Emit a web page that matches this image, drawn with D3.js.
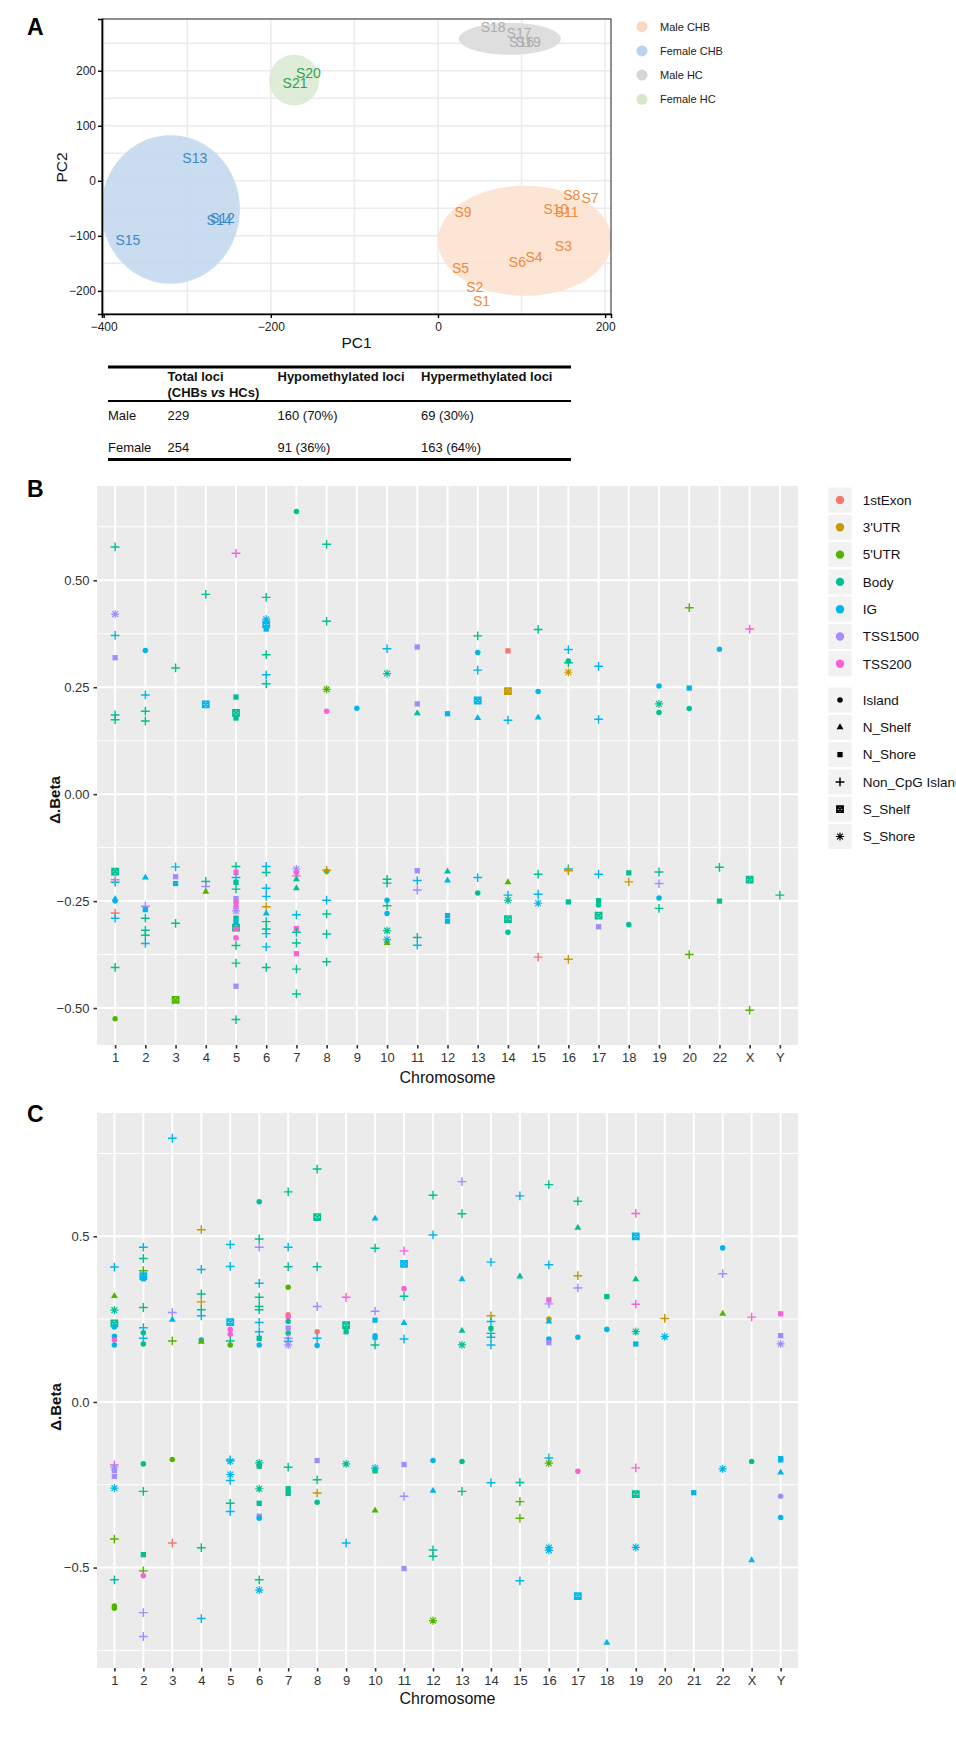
<!DOCTYPE html>
<html>
<head>
<meta charset="utf-8">
<script src="https://cdn.jsdelivr.net/npm/d3@7/dist/d3.min.js"></script>
<style>
html,body{margin:0;padding:0;background:#fff;}
svg{display:block;}
</style>
</head>
<body>
<svg id="fig" width="956" height="1751"></svg>
<script>
// ================= DATA =================
// ---- Panel A : PCA
const pcaGroups = ["Male CHB", "Female CHB", "Male HC", "Female HC"];
const pcaLabelColors = ["#EC8A3D", "#3F87C8", "#ADADAD", "#32A052"];
const pcaEllipseColors = ["#FCE1CE", "#C3D8EE", "#DADADA", "#DBEBD3"];
const pcaLegendColors = ["#F9D7C1", "#BBD3EC", "#D6D6D6", "#D5E8CC"];
const sampleNames = ["S1","S2","S3","S4","S5","S6","S7","S8","S9","S10","S11","S12","S13","S14","S15","S16","S17","S18","S19","S20","S21"];
const samplePC1 = [52, 44, 150, 115, 27, 95, 182, 160, 30, 141, 154, -258, -291, -262, -371, 100, 97, 66, 108, -155, -171];
const samplePC2 = [-218, -192, -119, -138, -158, -147, -31, -25, -56, -51, -57, -68, 42, -71, -108, 253, 269, 280, 253, 196, 178];
const sampleGroup = [0,0,0,0,0,0,0,0,0,0,0,1,1,1,1,2,2,2,2,3,3];
const ellipseCenterPC1 = [104, -320, 86, -172];
const ellipseCenterPC2 = [-109, -52, 258, 183];
const ellipseRadiusPC1 = [104, 83, 61, 30];
const ellipseRadiusPC2 = [100, 135, 29, 46];
const pcaXDomain = [-402, 207];
const pcaYDomain = [-242, 294];
const pcaXTicks = [-400, -200, 0, 200];
const pcaYTicks = [-200, -100, 0, 100, 200];

// ---- Table
const tableHeader = ["", "Total loci", "Hypomethylated loci", "Hypermethylated loci"];
const tableRows = [
  ["Male", "229", "160 (70%)", "69 (30%)"],
  ["Female", "254", "91 (36%)", "163 (64%)"]
];

// ---- Panels B & C
const regions = ["1stExon", "3'UTR", "5'UTR", "Body", "IG", "TSS1500", "TSS200"];
const regionColors = ["#F8766D", "#C49A00", "#53B400", "#00C094", "#00B6EB", "#A58AFF", "#FB61D7"];
const islands = ["Island", "N_Shelf", "N_Shore", "Non_CpG Island", "S_Shelf", "S_Shore"];
const E=0, U3=1, U5=2, BD=3, IG=4, T15=5, T2=6;
const ISL=0, NSF=1, NSR=2, NON=3, SSF=4, SSR=5;

const chromB = ["1","2","3","4","5","6","7","8","9","10","11","12","13","14","15","16","17","18","19","20","22","X","Y"];
const chromC = ["1","2","3","4","5","6","7","8","9","10","11","12","13","14","15","16","17","18","19","20","21","22","X","Y"];
const ticksB = [-0.5, -0.25, 0, 0.25, 0.5];
const minorB = [-0.625, -0.375, -0.125, 0.125, 0.375, 0.625];
const ticksC = [-0.5, 0, 0.5];
const minorC = [-0.75, -0.25, 0.25, 0.75];

// [chromosome, delta beta, region, island relation]
const pointsB = [
  ["1",0.578,BD,NON],["1",0.421,T15,SSR],["1",0.371,IG,NON],["1",0.319,T15,NSR],["1",0.185,BD,NON],["1",0.174,BD,NON],
  ["1",-0.181,BD,SSF],["1",-0.206,BD,NON],["1",-0.200,T15,NON],["1",-0.250,IG,ISL],["1",-0.245,IG,NSF],["1",-0.278,E,NON],["1",-0.290,IG,NON],["1",-0.405,BD,NON],["1",-0.525,U5,ISL],
  ["2",0.336,IG,ISL],["2",0.232,IG,NON],["2",0.194,BD,NON],["2",0.171,BD,NON],
  ["2",-0.195,IG,NSF],["2",-0.262,T15,NON],["2",-0.270,IG,NSR],["2",-0.290,BD,NON],["2",-0.318,BD,NON],["2",-0.330,BD,NON],["2",-0.349,IG,NON],
  ["3",0.295,BD,NON],["3",-0.170,IG,NON],["3",-0.193,T15,NSR],["3",-0.209,IG,NSR],["3",-0.302,BD,NON],["3",-0.481,U5,SSF],
  ["4",0.467,BD,NON],["4",0.210,IG,SSF],["4",-0.204,BD,NON],["4",-0.216,T15,NON],["4",-0.228,U5,NSF],
  ["5",0.563,T2,NON],["5",0.227,BD,NSR],["5",0.190,BD,SSF],["5",0.178,BD,NSR],
  ["5",-0.169,BD,NON],["5",-0.183,T2,NSR],["5",-0.195,IG,NON],["5",-0.206,BD,NSR],["5",-0.222,BD,NON],["5",-0.244,T15,NSR],["5",-0.253,T2,ISL],["5",-0.262,T2,ISL],["5",-0.273,T15,SSR],["5",-0.290,BD,NSR],["5",-0.300,IG,NSR],["5",-0.312,BD,SSF],["5",-0.315,T2,ISL],["5",-0.336,T2,ISL],["5",-0.354,BD,NON],["5",-0.395,BD,NON],["5",-0.449,T15,NSR],["5",-0.527,BD,NON],
  ["6",0.460,BD,NON],["6",0.409,IG,SSR],["6",0.397,IG,SSF],["6",0.386,IG,NSR],["6",0.326,BD,NON],["6",0.279,IG,NON],["6",0.258,BD,NON],
  ["6",-0.169,IG,NON],["6",-0.183,BD,NON],["6",-0.220,IG,NON],["6",-0.239,IG,NON],["6",-0.263,U3,NON],["6",-0.279,IG,NSF],["6",-0.298,BD,NON],["6",-0.315,BD,NON],["6",-0.326,IG,NON],["6",-0.357,IG,NON],["6",-0.405,BD,NON],
  ["7",0.661,BD,ISL],
  ["7",-0.175,T15,SSR],["7",-0.183,T2,ISL],["7",-0.191,T2,NON],["7",-0.199,BD,NSF],["7",-0.220,BD,NSF],["7",-0.282,IG,NON],["7",-0.314,T2,NSR],["7",-0.323,BD,NON],["7",-0.348,BD,NON],["7",-0.373,T2,NSR],["7",-0.409,BD,NON],["7",-0.467,BD,NON],
  ["8",0.584,BD,NON],["8",0.404,BD,NON],["8",0.245,U5,SSR],["8",0.194,T2,ISL],
  ["8",-0.180,BD,ISL],["8",-0.178,U3,NON],["8",-0.248,IG,NON],["8",-0.280,BD,NON],["8",-0.327,BD,NON],["8",-0.392,BD,NON],
  ["9",0.201,IG,ISL],
  ["10",0.340,IG,NON],["10",0.282,BD,SSR],
  ["10",-0.199,BD,NON],["10",-0.208,BD,NON],["10",-0.248,IG,ISL],["10",-0.261,BD,NON],["10",-0.279,IG,ISL],["10",-0.319,BD,SSR],["10",-0.340,IG,SSR],["10",-0.348,U5,NSF],
  ["11",0.344,T15,NSR],["11",0.211,T15,NSR],["11",0.189,BD,NSF],
  ["11",-0.179,T15,NSR],["11",-0.202,IG,NON],["11",-0.224,T15,NON],["11",-0.335,BD,NON],["11",-0.353,IG,NON],
  ["12",0.188,IG,NSR],["12",-0.181,BD,NSF],["12",-0.202,IG,NSF],["12",-0.284,IG,NSR],["12",-0.297,IG,NSR],
  ["13",0.370,BD,NON],["13",0.331,IG,ISL],["13",0.290,IG,NON],["13",0.219,IG,SSF],["13",0.178,IG,NSF],
  ["13",-0.195,IG,NON],["13",-0.231,BD,ISL],
  ["14",0.335,E,NSR],["14",0.241,U3,SSF],["14",0.173,IG,NON],
  ["14",-0.206,U5,NSF],["14",-0.236,IG,NON],["14",-0.248,BD,SSR],["14",-0.292,BD,SSF],["14",-0.323,BD,ISL],
  ["15",0.385,BD,NON],["15",0.240,IG,ISL],["15",0.179,IG,NSF],
  ["15",-0.187,BD,NON],["15",-0.234,IG,NON],["15",-0.255,IG,SSR],["15",-0.381,E,NON],
  ["16",0.338,IG,NON],["16",0.311,BD,ISL],["16",0.307,BD,NON],["16",0.285,U3,SSR],
  ["16",-0.175,IG,NON],["16",-0.179,U3,NON],["16",-0.252,BD,NSR],["16",-0.386,U3,NON],
  ["17",0.299,IG,NON],["17",0.175,IG,NON],
  ["17",-0.187,IG,NON],["17",-0.249,BD,NSR],["17",-0.259,BD,ISL],["17",-0.284,BD,SSF],["17",-0.310,T15,NSR],
  ["18",-0.184,BD,NSR],["18",-0.205,U3,NON],["18",-0.305,BD,ISL],
  ["19",0.253,IG,ISL],["19",0.211,BD,SSR],["19",0.191,BD,ISL],
  ["19",-0.182,BD,NON],["19",-0.209,T15,NON],["19",-0.243,IG,ISL],["19",-0.267,BD,NON],
  ["20",0.436,U5,NON],["20",0.248,IG,NSR],["20",0.200,BD,ISL],["20",-0.375,U5,NON],
  ["22",0.339,IG,ISL],["22",-0.171,BD,NON],["22",-0.250,BD,NSR],
  ["X",0.386,T2,NON],["X",-0.200,BD,SSF],["X",-0.505,U5,NON],
  ["Y",-0.236,BD,NON]
];

const pointsC = [
  ["1",0.407,IG,NON],["1",0.320,U5,NSF],["1",0.277,BD,SSR],["1",0.237,BD,SSF],["1",0.226,IG,ISL],["1",0.198,IG,ISL],["1",0.187,T2,ISL],["1",0.172,IG,ISL],
  ["1",-0.190,T2,NON],["1",-0.197,T15,SSR],["1",-0.207,T15,NSR],["1",-0.225,T15,NSR],["1",-0.260,IG,SSR],["1",-0.414,U5,NON],["1",-0.537,BD,NON],["1",-0.616,U5,ISL],["1",-0.623,U5,ISL],
  ["2",0.467,IG,NON],["2",0.433,BD,NON],["2",0.396,U5,NON],["2",0.380,IG,SSF],["2",0.372,IG,NSR],["2",0.285,BD,NON],["2",0.224,IG,NON],["2",0.209,BD,ISL],["2",0.192,IG,NON],["2",0.175,BD,ISL],
  ["2",-0.187,BD,ISL],["2",-0.270,BD,NON],["2",-0.461,BD,NSR],["2",-0.510,U5,NON],["2",-0.525,T2,ISL],["2",-0.636,T15,NON],["2",-0.708,T15,NON],
  ["3",0.796,IG,NON],["3",0.270,T15,NON],["3",0.248,IG,NSF],["3",0.184,U5,NON],["3",-0.174,U5,ISL],["3",-0.426,E,NON],
  ["4",0.520,U3,NON],["4",0.400,IG,NON],["4",0.326,BD,NON],["4",0.302,U3,NON],["4",0.278,BD,NON],["4",0.260,IG,NON],["4",0.187,IG,ISL],["4",0.182,U5,NSF],
  ["4",-0.440,BD,NON],["4",-0.654,IG,NON],
  ["5",0.475,IG,NON],["5",0.409,IG,NON],["5",0.241,IG,SSF],["5",0.219,T2,ISL],["5",0.204,T2,ISL],["5",0.184,BD,NON],["5",0.172,U5,ISL],
  ["5",-0.175,IG,NON],["5",-0.179,IG,SSR],["5",-0.219,IG,SSR],["5",-0.237,IG,NON],["5",-0.306,BD,NON],["5",-0.331,IG,NON],
  ["6",0.604,BD,ISL],["6",0.492,BD,NON],["6",0.467,T15,NON],["6",0.358,IG,NON],["6",0.316,BD,NON],["6",0.288,BD,NON],["6",0.278,BD,NON],["6",0.240,IG,NON],["6",0.212,IG,NON],["6",0.192,BD,NSR],["6",0.172,IG,ISL],
  ["6",-0.184,BD,SSR],["6",-0.194,BD,NSR],["6",-0.262,BD,SSR],["6",-0.306,BD,NSR],["6",-0.345,T15,NSR],["6",-0.351,IG,ISL],["6",-0.537,BD,NON],["6",-0.568,IG,SSR],
  ["7",0.634,BD,NON],["7",0.467,IG,NON],["7",0.408,BD,NON],["7",0.346,U5,ISL],["7",0.263,E,ISL],["7",0.256,T2,ISL],["7",0.243,BD,ISL],["7",0.223,T15,NSR],["7",0.207,BD,ISL],["7",0.192,T15,NON],["7",0.183,IG,NON],["7",0.172,T15,SSR],
  ["7",-0.197,BD,NON],["7",-0.262,BD,NSR],["7",-0.276,BD,NSR],
  ["8",0.703,BD,NON],["8",0.558,BD,SSF],["8",0.408,BD,NON],["8",0.288,T15,NON],["8",0.212,E,ISL],["8",0.192,IG,NON],["8",0.170,IG,ISL],
  ["8",-0.177,T15,NSR],["8",-0.235,BD,NON],["8",-0.275,U3,NON],["8",-0.303,BD,ISL],
  ["9",0.316,T2,NON],["9",0.232,BD,SSF],["9",0.212,BD,NSR],["9",-0.187,BD,SSR],["9",-0.426,IG,NON],
  ["10",0.554,IG,NSF],["10",0.464,BD,NON],["10",0.274,T15,NON],["10",0.247,IG,NSR],["10",0.200,IG,ISL],["10",0.194,IG,ISL],["10",0.172,BD,NON],
  ["10",-0.200,IG,SSR],["10",-0.208,BD,NSR],["10",-0.328,U5,NSF],
  ["11",0.456,T2,NON],["11",0.417,IG,SSF],["11",0.342,T2,ISL],["11",0.319,BD,NON],["11",0.238,IG,NSF],["11",0.190,IG,NON],
  ["11",-0.189,T15,NSR],["11",-0.285,T15,NON],["11",-0.503,T15,NSR],
  ["12",0.624,BD,NON],["12",0.504,IG,NON],["12",-0.177,IG,ISL],["12",-0.268,IG,NSF],["12",-0.447,BD,NON],["12",-0.466,BD,NON],["12",-0.660,U5,SSR],
  ["13",0.665,T15,NON],["13",0.568,BD,NON],["13",0.370,IG,NSF],["13",0.215,BD,NSF],["13",0.172,BD,SSR],["13",-0.180,BD,ISL],["13",-0.270,BD,NON],
  ["14",0.422,IG,NON],["14",0.260,U3,NON],["14",0.243,IG,NON],["14",0.222,BD,ISL],["14",0.207,BD,NON],["14",0.195,IG,NON],["14",0.172,IG,NON],["14",-0.244,IG,NON],
  ["15",0.622,IG,NON],["15",0.379,BD,NSF],["15",-0.243,BD,NON],["15",-0.301,U5,NON],["15",-0.351,U5,NON],["15",-0.540,IG,NON],
  ["16",0.656,BD,NON],["16",0.414,IG,NON],["16",0.308,T2,NSR],["16",0.296,T15,NON],["16",0.250,U3,ISL],["16",0.243,IG,NSF],["16",0.190,IG,ISL],["16",0.179,T15,NSR],
  ["16",-0.169,IG,NON],["16",-0.185,U5,SSR],["16",-0.440,IG,SSR],["16",-0.448,IG,SSR],
  ["17",0.606,BD,NON],["17",0.526,BD,NSF],["17",0.381,U3,NON],["17",0.344,T15,NON],["17",0.195,IG,ISL],["17",-0.209,T2,ISL],["17",-0.586,IG,SSF],
  ["18",0.318,BD,NSR],["18",0.219,IG,ISL],["18",-0.727,IG,NSF],
  ["19",0.569,T2,NON],["19",0.500,IG,SSF],["19",0.370,BD,NSF],["19",0.295,T2,NON],["19",0.212,BD,SSR],["19",0.175,IG,NSR],
  ["19",-0.199,T2,NON],["19",-0.278,BD,SSF],["19",-0.439,IG,SSR],
  ["20",0.252,U3,NON],["20",0.197,IG,SSR],
  ["21",-0.274,IG,NSR],
  ["22",0.465,IG,ISL],["22",0.387,T15,NON],["22",0.266,U5,NSF],["22",-0.202,IG,SSR],
  ["X",0.256,T2,NON],["X",-0.180,BD,ISL],["X",-0.478,IG,NSF],
  ["Y",0.266,T2,NSR],["Y",0.200,T15,NSR],["Y",0.175,T15,SSR],["Y",-0.171,IG,NSR],["Y",-0.175,IG,NSR],["Y",-0.213,IG,NSF],["Y",-0.285,T15,ISL],["Y",-0.349,IG,ISL]
];

// ================= DRAWING =================
const FONT = "'Liberation Sans', Arial, Helvetica, sans-serif";
const svg = d3.select("#fig").attr("font-family", FONT);

// panel letters
[["A", 27, 35], ["B", 27, 497], ["C", 27, 1122]].forEach(([t, x, y]) => {
  svg.append("text").attr("x", x).attr("y", y).attr("font-size", 23).attr("font-weight", "bold").attr("fill", "#000").text(t);
});

// ---------- Panel A ----------
(function () {
  const P = { left: 102, right: 611, top: 19, bottom: 314 };
  const x = d3.scaleLinear().domain(pcaXDomain).range([P.left, P.right]);
  const y = d3.scaleLinear().domain(pcaYDomain).range([P.bottom, P.top]);
  const g = svg.append("g");
  svg.append("clipPath").attr("id", "clipA").append("rect")
    .attr("x", P.left).attr("y", P.top).attr("width", P.right - P.left).attr("height", P.bottom - P.top);
  g.append("rect").attr("x", P.left).attr("y", P.top).attr("width", P.right - P.left).attr("height", P.bottom - P.top).attr("fill", "#fff");
  const gx = d3.range(-400, 201, 100), gy = d3.range(-200, 251, 50);
  g.selectAll(".gvx").data(gx).join("line").attr("x1", d => x(d)).attr("x2", d => x(d)).attr("y1", P.top).attr("y2", P.bottom)
    .attr("stroke", "#EBEBEB").attr("stroke-width", 1.5);
  g.selectAll(".gvy").data(gy).join("line").attr("y1", d => y(d)).attr("y2", d => y(d)).attr("x1", P.left).attr("x2", P.right)
    .attr("stroke", "#EBEBEB").attr("stroke-width", 1.5);
  // ellipses
  const ell = pcaGroups.map((gname, i) => {
    const pts = d3.range(0, 101).map(k => {
      const t = k / 100 * 2 * Math.PI;
      return [x(ellipseCenterPC1[i] + ellipseRadiusPC1[i] * Math.cos(t)), y(ellipseCenterPC2[i] + ellipseRadiusPC2[i] * Math.sin(t))];
    });
    return { i, pts };
  });
  g.append("g").attr("clip-path", "url(#clipA)").selectAll(".ell").data(ell).join("path").attr("d", d => d3.line()(d.pts) + "Z")
    .attr("fill", d => pcaEllipseColors[d.i]).attr("fill-opacity", 0.88);
  // labels
  g.selectAll(".lab").data(sampleNames.map((n, i) => i)).join("text")
    .attr("x", i => x(samplePC1[i])).attr("y", i => y(samplePC2[i])).attr("dy", "0.36em")
    .attr("text-anchor", "middle").attr("font-size", 14).attr("fill", i => pcaLabelColors[sampleGroup[i]])
    .text(i => sampleNames[i]);
  // border
  g.append("rect").attr("x", P.left).attr("y", P.top).attr("width", P.right - P.left).attr("height", P.bottom - P.top)
    .attr("fill", "none").attr("stroke", "#222").attr("stroke-width", 1);
  const ax = g.append("g").attr("transform", `translate(0,${P.bottom})`).call(d3.axisBottom(x).tickValues(pcaXTicks).tickSize(4).tickPadding(4));
  ax.select(".domain").attr("stroke", "#000").attr("stroke-width", 1.6);
  ax.selectAll(".tick line").attr("stroke", "#000").attr("stroke-width", 1.4);
  ax.selectAll("text").attr("font-size", 12).attr("fill", "#222").attr("font-family", FONT);
  const ay = g.append("g").attr("transform", `translate(${P.left},0)`).call(d3.axisLeft(y).tickValues(pcaYTicks).tickSize(4).tickPadding(2));
  ay.select(".domain").attr("stroke", "#000").attr("stroke-width", 1.6);
  ay.selectAll(".tick line").attr("stroke", "#000").attr("stroke-width", 1.4);
  ay.selectAll("text").attr("font-size", 12).attr("fill", "#222").attr("font-family", FONT);
  g.append("text").attr("x", (P.left + P.right) / 2).attr("y", 348).attr("text-anchor", "middle").attr("font-size", 15.5).attr("fill", "#111").text("PC1");
  g.append("text").attr("transform", `translate(67,${(P.top + P.bottom) / 2 + 1}) rotate(-90)`).attr("text-anchor", "middle").attr("font-size", 15.5).attr("fill", "#111").text("PC2");
  // legend
  const lg = svg.append("g");
  pcaGroups.forEach((n, i) => {
    const yy = 26.7 + i * 24.2;
    lg.append("circle").attr("cx", 642).attr("cy", yy).attr("r", 5.5).attr("fill", pcaLegendColors[i]);
    lg.append("text").attr("x", 660).attr("y", yy).attr("dy", "0.35em").attr("font-size", 11).attr("fill", "#222").text(n);
  });
})();

// ---------- Table ----------
(function () {
  const colX = [108, 167.5, 277.5, 421];
  const L = 108, R = 571;
  const g = svg.append("g");
  g.append("line").attr("x1", L).attr("x2", R).attr("y1", 367).attr("y2", 367).attr("stroke", "#000").attr("stroke-width", 3);
  g.append("line").attr("x1", L).attr("x2", R).attr("y1", 401).attr("y2", 401).attr("stroke", "#000").attr("stroke-width", 2.2);
  g.append("line").attr("x1", L).attr("x2", R).attr("y1", 459.5).attr("y2", 459.5).attr("stroke", "#000").attr("stroke-width", 3);
  tableHeader.forEach((h, i) => {
    if (!h) return;
    g.append("text").attr("x", colX[i]).attr("y", 381).attr("font-size", 13).attr("font-weight", "bold").attr("fill", "#111").text(h);
  });
  const t2 = g.append("text").attr("x", colX[1]).attr("y", 397).attr("font-size", 13).attr("font-weight", "bold").attr("fill", "#111");
  t2.append("tspan").text("(CHBs ");
  t2.append("tspan").attr("font-style", "italic").text("vs");
  t2.append("tspan").text(" HCs)");
  const rowY = [419.5, 451.5];
  tableRows.forEach((row, r) => {
    row.forEach((c, i) => {
      g.append("text").attr("x", colX[i]).attr("y", rowY[r]).attr("font-size", 13).attr("fill", "#111").text(c);
    });
  });
})();

// ---------- Scatter panels ----------
function shapeD(s) {
  switch (s) {
    case 0: return d3.symbol(d3.symbolCircle, 24)();
    case 1: return d3.symbol(d3.symbolTriangle, 21)();
    case 2: return d3.symbol(d3.symbolSquare, 28)();
    case 3: return "M-4.4,0H4.4M0,-4.4V4.4";
    case 4: return "M-3.1,-3.1H3.1V3.1H-3.1ZM-3.1,-3.1L3.1,3.1M3.1,-3.1L-3.1,3.1";
    case 5: return "M-4.1,0H4.1M0,-4.1V4.1M-2.9,-2.9L2.9,2.9M2.9,-2.9L-2.9,2.9";
  }
}
function styleShape(sel, s, color) {
  if (s <= 2) sel.attr("fill", color).attr("stroke", "none");
  else if (s === 4) sel.attr("fill", color).attr("fill-opacity", 0.35).attr("stroke", color).attr("stroke-width", 1.6);
  else sel.attr("fill", "none").attr("stroke", color).attr("stroke-width", s === 3 ? 1.45 : 1.2);
}

function drawScatter(p) {
  const g = svg.append("g");
  const ext = d3.extent(p.data, d => d[1]);
  const pad = (ext[1] - ext[0]) * 0.05;
  const y = d3.scaleLinear().domain([ext[0] - pad, ext[1] + pad]).range([p.bottom, p.top]);
  const x = d3.scalePoint().domain(p.chroms).range([p.left, p.right]).padding(0.6);
  g.append("rect").attr("x", p.left).attr("y", p.top).attr("width", p.right - p.left).attr("height", p.bottom - p.top).attr("fill", "#EBEBEB");
  const dom = y.domain();
  g.selectAll(".mn").data(p.minor.filter(v => v > dom[0] && v < dom[1])).join("line")
    .attr("x1", p.left).attr("x2", p.right).attr("y1", d => y(d)).attr("y2", d => y(d)).attr("stroke", "#fff").attr("stroke-width", 1);
  g.selectAll(".mj").data(p.ticks).join("line")
    .attr("x1", p.left).attr("x2", p.right).attr("y1", d => y(d)).attr("y2", d => y(d)).attr("stroke", "#fff").attr("stroke-width", 2);
  g.selectAll(".vx").data(p.chroms).join("line")
    .attr("x1", d => x(d)).attr("x2", d => x(d)).attr("y1", p.top).attr("y2", p.bottom).attr("stroke", "#fff").attr("stroke-width", 2);
  g.selectAll(".pt").data(p.data).join("path")
    .attr("transform", d => `translate(${x(d[0])},${y(d[1])})`)
    .attr("d", d => shapeD(d[3]))
    .each(function (d) { styleShape(d3.select(this), d[3], regionColors[d[2]]); });
  const ax = g.append("g").attr("transform", `translate(0,${p.bottom})`).call(d3.axisBottom(x).tickSize(3.5).tickPadding(4.5));
  ax.select(".domain").remove();
  ax.selectAll(".tick line").attr("stroke", "#333").attr("stroke-width", 1.6);
  ax.selectAll("text").attr("font-size", 13).attr("fill", "#333").attr("font-family", FONT);
  const ay = g.append("g").attr("transform", `translate(${p.left},0)`).call(d3.axisLeft(y).tickValues(p.ticks).tickFormat(d3.format(p.fmt)).tickSize(3.5).tickPadding(4));
  ay.select(".domain").remove();
  ay.selectAll(".tick line").attr("stroke", "#333").attr("stroke-width", 1.6);
  ay.selectAll("text").attr("font-size", 13).attr("fill", "#333").attr("font-family", FONT);
  g.append("text").attr("x", (p.left + p.right) / 2).attr("y", p.xTitleY).attr("text-anchor", "middle").attr("font-size", 16).attr("fill", "#111").text("Chromosome");
  g.append("text").attr("transform", `translate(${p.yTitleX},${p.yTitleCY}) rotate(-90)`).attr("text-anchor", "middle")
    .attr("font-size", 15).attr("font-weight", "bold").attr("fill", "#111").text("\u0394.Beta");
}

drawScatter({ left: 97, right: 798, top: 486, bottom: 1045, data: pointsB, chroms: chromB, ticks: ticksB, minor: minorB, fmt: ".2f", xTitleY: 1082.5, yTitleX: 60, yTitleCY: 800 });
drawScatter({ left: 97, right: 798, top: 1113, bottom: 1668, data: pointsC, chroms: chromC, ticks: ticksC, minor: minorC, fmt: ".1f", xTitleY: 1704, yTitleX: 61, yTitleCY: 1407 });

// ---------- Legend B ----------
(function () {
  const g = svg.append("g");
  const keyX = 828.5, keyW = 23, keyH = 25, textX = 862.7, step = 27.3;
  regions.forEach((r, i) => {
    const yy = 500 + i * step;
    g.append("rect").attr("x", keyX).attr("y", yy - keyH / 2).attr("width", keyW).attr("height", keyH).attr("fill", "#F2F2F2");
    g.append("circle").attr("cx", keyX + keyW / 2).attr("cy", yy).attr("r", 4.2).attr("fill", regionColors[i]);
    g.append("text").attr("x", textX).attr("y", yy).attr("dy", "0.35em").attr("font-size", 13.5).attr("fill", "#111").text(r);
  });
  islands.forEach((s, i) => {
    const yy = 700 + i * step;
    g.append("rect").attr("x", keyX).attr("y", yy - keyH / 2).attr("width", keyW).attr("height", keyH).attr("fill", "#F2F2F2");
    const p = g.append("path").attr("transform", `translate(${keyX + keyW / 2},${yy})`).attr("d", shapeD(i));
    styleShape(p, i, "#000");
    g.append("text").attr("x", textX).attr("y", yy).attr("dy", "0.35em").attr("font-size", 13.5).attr("fill", "#111").text(s);
  });
})();
</script>
</body>
</html>
